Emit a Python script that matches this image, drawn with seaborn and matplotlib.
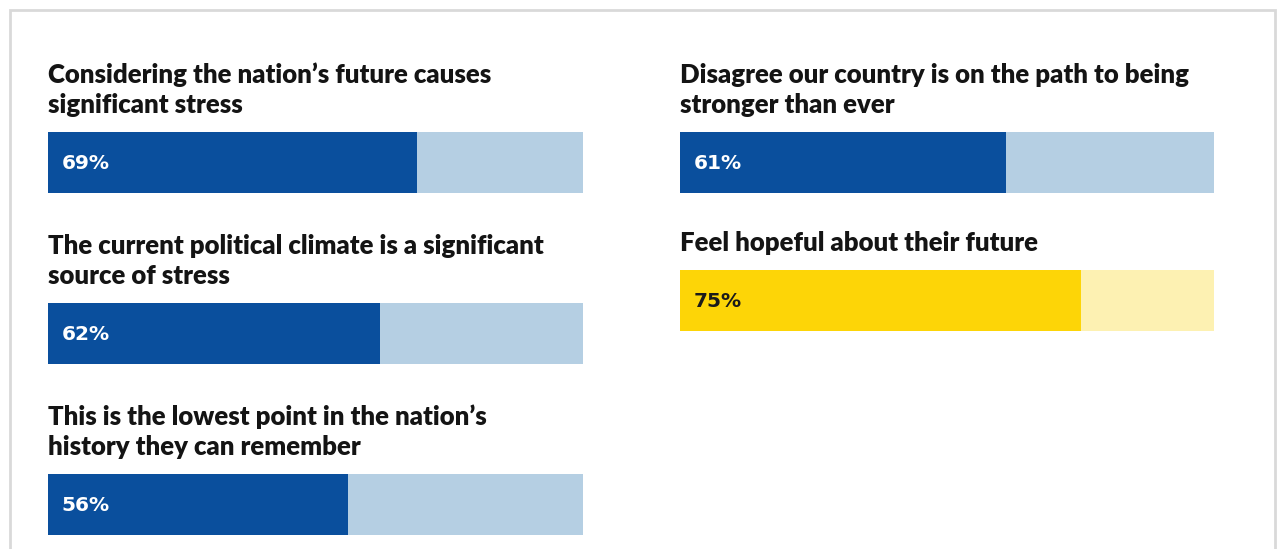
import matplotlib
matplotlib.use("Agg")
import matplotlib.pyplot as plt
import seaborn as sns
import pandas as pd
from matplotlib.patches import Rectangle

sns.set_theme(style="white")
plt.rcParams['font.family'] = ['Lato', 'DejaVu Sans']

# ---- data ----
titles = [
    "Considering the nation\u2019s future causes\nsignificant stress",
    "The current political climate is a significant\nsource of stress",
    "This is the lowest point in the nation\u2019s\nhistory they can remember",
    "Disagree our country is on the path to being\nstronger than ever",
    "Feel hopeful about their future",
]
values = [69, 62, 56, 61, 75]
labels = ["69%", "62%", "56%", "61%", "75%"]
dark_colors = ["#0a4f9d", "#0a4f9d", "#0a4f9d", "#0a4f9d", "#fdd507"]
light_colors = ["#b5cfe3", "#b5cfe3", "#b5cfe3", "#b5cfe3", "#fdf1b2"]
label_colors = ["white", "white", "white", "white", "#1a1a1a"]

# layout (pixels): left x, bar top y, bar width
W, H = 1278, 549
bar_left = [48, 48, 48, 680, 680]
bar_top = [132, 303, 474, 132, 270]
bar_w = [535, 535, 535, 534, 534]
bar_h = 61

fig = plt.figure(figsize=(W / 100, H / 100), dpi=100)
fig.patch.set_facecolor("white")

# card border
fig.patches.append(Rectangle((10 / W, -0.05), 1265 / W, 1 - 10 / H + 0.05,
                             transform=fig.transFigure, fill=False,
                             edgecolor="#d9d9d9", lw=2))

for i in range(len(values)):
    x0, y0, w = bar_left[i], bar_top[i], bar_w[i]
    ax = fig.add_axes([x0 / W, 1 - (y0 + bar_h) / H, w / W, bar_h / H])
    df = pd.DataFrame({"cat": ["a"], "full": [100], "val": [values[i]]})
    sns.barplot(data=df, x="full", y="cat", color=light_colors[i],
                width=1.0, ax=ax, saturation=1, edgecolor="none")
    sns.barplot(data=df, x="val", y="cat", color=dark_colors[i],
                width=1.0, ax=ax, saturation=1, edgecolor="none")
    ax.set_xlim(0, 100)
    ax.set_ylim(0.5, -0.5)
    ax.axis("off")
    ax.text(2.6, 0.02, labels[i], color=label_colors[i], fontsize=14.5,
            fontweight="bold", va="center", ha="left", family="DejaVu Sans")
    lines = titles[i].split("\n")
    n = len(lines)
    for j, line in enumerate(lines):
        base = y0 - 19 - (n - 1 - j) * 30
        fig.text(x0 / W, 1 - base / H, line, fontsize=18.5, fontweight="heavy",
                 color="#141414", va="baseline", ha="left")

fig.savefig("out.png", dpi=100, facecolor="white")
